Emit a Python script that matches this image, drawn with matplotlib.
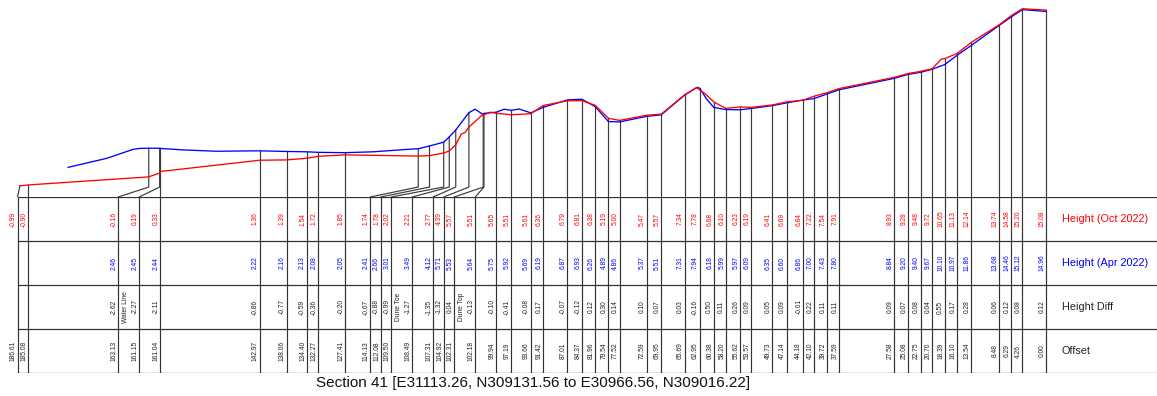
import numpy as np
import matplotlib.pyplot as plt

plt.rcParams['font.family'] = ['Liberation Sans', 'DejaVu Sans']

nan = np.nan

# chainage along the section (m), landward end is 0.00
offset = [186.61, 185.08, 163.13, 161.15, 161.04, 142.97, 138.06, 134.40, 132.27, 127.41,
          114.13, 112.08, 109.50, 108.49, 107.31, 104.92, 102.31, 102.18, 99.94, 97.19,
          93.66, 91.42, 87.01, 84.37, 81.96, 79.54, 77.52, 72.59, 69.95, 65.69,
          62.95, 60.38, 58.20, 55.62, 53.57, 49.73, 47.14, 44.18, 42.10, 39.72,
          37.59, 27.58, 25.08, 22.75, 20.70, 18.39, 16.10, 13.54, 8.48, 6.29,
          4.26, 0.00]

height_oct = [-0.99, -0.90, -0.16, 0.19, 0.33, 1.36, 1.39, 1.54, 1.72, 1.85,
              1.74, 1.78, 2.02, 2.21, 2.77, 4.39, 5.57, 5.51, 5.65, 5.51,
              5.61, 6.36, 6.79, 6.81, 6.38, 5.19, 5.00, 5.47, 5.57, 7.34,
              7.78, 6.68, 6.10, 6.23, 6.19, 6.41, 6.69, 6.84, 7.22, 7.54,
              7.91, 8.93, 9.28, 9.48, 9.72, 10.65, 11.13, 12.14, 13.74, 14.58,
              15.20, 15.08]

height_apr = [nan, nan, 2.46, 2.45, 2.44, 2.22, 2.16, 2.13, 2.08, 2.05,
              2.41, 2.66, 3.01, 3.49, 4.12, 5.71, 5.53, 5.64, 5.75, 5.92,
              5.69, 6.19, 6.87, 6.93, 6.26, 4.89, 4.86, 5.37, 5.51, 7.31,
              7.94, 6.18, 5.99, 5.97, 6.09, 6.35, 6.60, 6.86, 7.00, 7.43,
              7.80, 8.84, 9.20, 9.40, 9.67, 10.10, 10.97, 11.86, 13.68, 14.46,
              15.12, 14.96]

height_diff = [nan, nan, -2.62, -2.27, -2.11, -0.86, -0.77, -0.59, -0.36, -0.20,
               -0.67, -0.88, -0.99, -1.27, -1.35, -1.32, 0.04, -0.13, -0.10, -0.41,
               -0.08, 0.17, -0.07, -0.12, 0.12, 0.30, 0.14, 0.10, 0.07, 0.03,
               -0.16, 0.50, 0.11, 0.26, 0.09, 0.05, 0.09, -0.01, 0.22, 0.11,
               0.11, 0.09, 0.07, 0.08, 0.04, 0.55, 0.17, 0.28, 0.06, 0.12,
               0.08, 0.12]

notes = {161.15: 'Water Line', 108.49: 'Dune Toe', 102.18: 'Dune Top'}

# intermediate survey points that only appear on the profile lines
oct_extra_offset = [106.3, 105.6, 101.0, 63.5, 62.0, 19.0]
oct_extra_height = [3.75, 3.90, 5.75, 8.00, 7.45, 10.60]
apr_extra_offset = [177.8, 170.8, 166.0, 164.7, 156.8, 150.8, 122.3, 116.2,
                    103.8, 98.5, 95.8, 63.4, 61.7]
apr_extra_height = [0.71, 1.53, 2.35, 2.44, 2.30, 2.18, 2.13, 2.35,
                    6.02, 6.02, 6.04, 8.03, 6.95]

row_labels = ['Height (Oct 2022)', 'Height (Apr 2022)', 'Height Diff', 'Offset']
row_colors = ['#ff0000', '#0000ff', '#222222', '#222222']
title = 'Section 41 [E31113.26, N309131.56 to E30966.56, N309016.22]'

RED = '#ff0000'
BLUE = '#0000ff'
GRID = '#333333'

W, H = 1157, 396
fig = plt.figure(figsize=(W / 100, H / 100), dpi=100)
table_top, table_bot = 197, 373
xlim = (190.18, -20.2)

ax = fig.add_axes([0, (H - table_top) / H, 1, table_top / H])
ax.set_xlim(*xlim)
ax.set_ylim(-2, 16)
ax.axis('off')

tb = fig.add_axes([0, (H - table_bot) / H, 1, (table_bot - table_top) / H])
tb.set_xlim(*xlim)
tb.set_ylim(4, 0)
tb.axis('off')


def merged(xs, ys, ex, ey):
    x = np.concatenate([np.asarray(xs, float), ex])
    y = np.concatenate([np.asarray(ys, float), ey])
    keep = ~np.isnan(y)
    x, y = x[keep], y[keep]
    order = np.argsort(x)
    return x[order], y[order]


# table columns are pushed apart so the rotated labels never collide
narrow, wide = 1.91, 3.82
off = np.array(offset)
order = np.argsort(off)
col = np.empty_like(off)
prev = None
for i in order:
    if prev is None:
        col[i] = off[i]
    else:
        gap = wide if (offset[i] in notes or offset[prev] in notes) else narrow
        col[i] = max(off[i], col[prev] + gap)
    prev = i

# leader lines from the table up to the ground surface
kink = -1.09
for i, x0 in enumerate(offset):
    top = np.nanmax([height_oct[i], height_apr[i]])
    if abs(col[i] - x0) > 0.05:
        ax.plot([col[i], x0, x0], [-2, kink, top], color='#3a3a3a', lw=0.85, zorder=1)
    else:
        ax.plot([x0, x0], [-2, top], color='#3a3a3a', lw=0.85, zorder=1)

ox, oy = merged(offset, height_oct, oct_extra_offset, oct_extra_height)
axx, axy = merged(offset, height_apr, apr_extra_offset, apr_extra_height)
ax.plot(axx, axy, color=BLUE, lw=0.95, zorder=3)
ax.plot(ox, oy, color=RED, lw=0.95, zorder=4)

# table grid
left_edge = col.max()
for r in range(5):
    tb.plot([left_edge, xlim[1]], [r, r], color=GRID, lw=0.9)
for c in col:
    tb.plot([c, c], [0, 4], color=GRID, lw=0.85)

fs = 4.8
dx = 0.75
for i, c in enumerate(col):
    rows = [height_oct[i], height_apr[i], height_diff[i], offset[i]]
    for r, v in enumerate(rows):
        if np.isnan(v):
            continue
        tb.text(c + dx, r + 0.5, f'{v:.2f}', rotation=90, ha='center', va='center',
                fontsize=fs, color=row_colors[r])
    if offset[i] in notes:
        tb.text(c + 2.55, 2.5, notes[offset[i]], rotation=90, ha='center', va='center',
                fontsize=fs, color='#222222')

for r, (lab, colr) in enumerate(zip(row_labels, row_colors)):
    tb.text(-2.9, r + 0.5, lab, ha='left', va='center', fontsize=7.8, color=colr)

fig.text(533 / W, 1 - 383 / H, title, ha='center', va='center', fontsize=11, color='#111111')

fig.savefig('out.png', dpi=100)
